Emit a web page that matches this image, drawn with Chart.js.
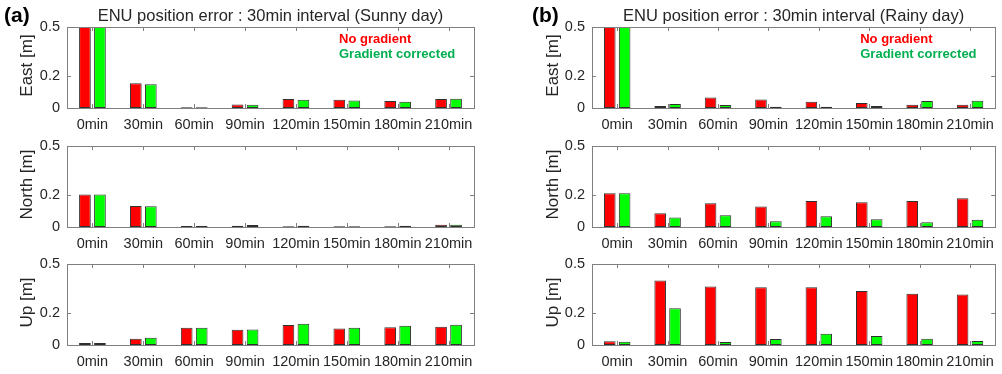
<!DOCTYPE html>
<html>
<head>
<meta charset="utf-8">
<script src="https://cdn.jsdelivr.net/npm/chart.js@4.4.1/dist/chart.umd.min.js"></script>
<style>
  html, body { margin: 0; padding: 0; background: #fff; }
  body { width: 1002px; height: 374px; position: relative; overflow: hidden; }
  canvas { position: absolute; }
</style>
</head>
<body>
<script>
// ---------- data ----------
const categories = ['0min', '30min', '60min', '90min', '120min', '150min', '180min', '210min'];
const yTicks = [0, 0.2, 0.5];
const seriesNames = ['No gradient', 'Gradient corrected'];

const sunnyEastNoGrad  = [0.5, 0.153, 0.004, 0.022, 0.055, 0.051, 0.043, 0.055];
const sunnyEastGrad    = [0.5, 0.147, 0.004, 0.020, 0.051, 0.047, 0.039, 0.057];
const sunnyNorthNoGrad = [0.200, 0.130, 0.006, 0.008, 0.004, 0.004, 0.004, 0.014];
const sunnyNorthGrad   = [0.200, 0.128, 0.006, 0.012, 0.008, 0.004, 0.008, 0.014];
const sunnyUpNoGrad    = [0.012, 0.039, 0.107, 0.094, 0.123, 0.102, 0.109, 0.113];
const sunnyUpGrad      = [0.012, 0.045, 0.107, 0.096, 0.131, 0.107, 0.119, 0.125];

const rainyEastNoGrad  = [0.5, 0.012, 0.065, 0.053, 0.039, 0.031, 0.020, 0.020];
const rainyEastGrad    = [0.5, 0.024, 0.018, 0.008, 0.008, 0.012, 0.043, 0.045];
const rainyNorthNoGrad = [0.209, 0.085, 0.147, 0.126, 0.161, 0.153, 0.161, 0.178];
const rainyNorthGrad   = [0.209, 0.058, 0.072, 0.035, 0.066, 0.048, 0.029, 0.045];
const rainyUpNoGrad    = [0.023, 0.398, 0.361, 0.357, 0.357, 0.334, 0.316, 0.311];
const rainyUpGrad      = [0.020, 0.227, 0.018, 0.037, 0.070, 0.055, 0.039, 0.025];

const panelTitles = ['ENU position error : 30min interval (Sunny day)', 'ENU position error : 30min interval (Rainy day)'];
const panelLetters = ['(a)', '(b)'];
const rowLabels = ['East [m]', 'North [m]', 'Up [m]'];

// ---------- layout ----------
const FONT = "'Liberation Sans', Arial, sans-serif";
const cols = [
  { x0: 0,   left: 67,  right: 474, letterX: 4 },
  { x0: 500, left: 592, right: 999, letterX: 532 }
];
const rows = [
  { top: 27,  bottom: 108 },
  { top: 146, bottom: 227 },
  { top: 264, bottom: 345 }
];
const CANVAS_W = 502;
const PAD_TOP = 27, XAXIS_H = 30;

const panelData = [
  [[sunnyEastNoGrad, sunnyEastGrad], [sunnyNorthNoGrad, sunnyNorthGrad], [sunnyUpNoGrad, sunnyUpGrad]],
  [[rainyEastNoGrad, rainyEastGrad], [rainyNorthNoGrad, rainyNorthGrad], [rainyUpNoGrad, rainyUpGrad]]
];

const decor = {
  id: 'decor',
  afterDatasetsDraw(chart, args, opts) {
    const ctx = chart.ctx;
    const a = chart.chartArea;
    const xs = chart.scales.x, ys = chart.scales.y;
    ctx.save();
    // box
    ctx.strokeStyle = '#7f7f7f';
    ctx.lineWidth = 1;
    ctx.strokeRect(Math.round(a.left) + 0.5, Math.round(a.top) + 0.5, Math.round(a.right - a.left), Math.round(a.bottom - a.top));
    // inward ticks
    const tl = 4;
    ctx.beginPath();
    for (let i = 0; i < categories.length; i++) {
      const px = Math.round(xs.getPixelForValue(i)) + 0.5;
      ctx.moveTo(px, a.top); ctx.lineTo(px, a.top + tl);
      ctx.moveTo(px, a.bottom); ctx.lineTo(px, a.bottom - tl);
    }
    yTicks.forEach(v => {
      const py = Math.round(ys.getPixelForValue(v)) + 0.5;
      ctx.moveTo(a.left, py); ctx.lineTo(a.left + tl, py);
      ctx.moveTo(a.right, py); ctx.lineTo(a.right - tl, py);
    });
    ctx.stroke();

    // y axis title
    ctx.fillStyle = '#262626';
    ctx.font = '17px ' + FONT;
    ctx.textAlign = 'center';
    ctx.textBaseline = 'middle';
    ctx.translate(opts.yTitleX, (a.top + a.bottom) / 2 - 2);
    ctx.rotate(-Math.PI / 2);
    ctx.fillText(opts.yTitle, 0, 0);
    ctx.restore();

    if (opts.title) {
      ctx.save();
      ctx.fillStyle = '#262626';
      ctx.font = '16.5px ' + FONT;
      ctx.textAlign = 'center';
      ctx.textBaseline = 'middle';
      ctx.fillText(opts.title, (a.left + a.right) / 2, 16);
      ctx.font = 'bold 21px ' + FONT;
      ctx.textAlign = 'left';
      ctx.fillStyle = '#000';
      ctx.fillText(opts.letter, opts.letterX, 16);
      // legend text
      ctx.font = 'bold 13px ' + FONT;
      ctx.fillStyle = '#ff0000';
      ctx.fillText(seriesNames[0], a.right - 135, 39);
      ctx.fillStyle = '#00b050';
      ctx.fillText(seriesNames[1], a.right - 135, 54);
      ctx.restore();
    }
  }
};

for (let c = 0; c < 2; c++) {
  for (let r = 0; r < 3; r++) {
    const col = cols[c], row = rows[r];
    const cv = document.createElement('canvas');
    const topPx = row.top - PAD_TOP;
    const h = (row.bottom - row.top) + PAD_TOP + XAXIS_H;
    cv.width = CANVAS_W; cv.height = h;
    cv.style.left = col.x0 + 'px';
    cv.style.top = topPx + 'px';
    cv.style.width = CANVAS_W + 'px';
    cv.style.height = h + 'px';
    document.body.appendChild(cv);
    const [d0, d1] = panelData[c][r];
    new Chart(cv, {
      type: 'bar',
      data: {
        labels: categories,
        datasets: [
          { label: seriesNames[0], data: d0, backgroundColor: '#ff0000', borderColor: '#303030', borderWidth: 1, borderSkipped: false,
            categoryPercentage: 0.59, barPercentage: 0.78 },
          { label: seriesNames[1], data: d1, backgroundColor: '#00ff00', borderColor: '#303030', borderWidth: 1, borderSkipped: false,
            categoryPercentage: 0.59, barPercentage: 0.78 }
        ]
      },
      options: {
        responsive: false,
        animation: false,
        devicePixelRatio: 1,
        layout: { padding: { top: PAD_TOP, right: (col.x0 + CANVAS_W) - col.right, left: 0, bottom: 0 } },
        plugins: {
          legend: { display: false },
          title: { display: false },
          tooltip: { enabled: false },
          decor: {
            yTitle: rowLabels[r],
            yTitleX: col.x0 === 0 ? 27 : 53,
            title: r === 0 ? panelTitles[c] : null,
            letter: panelLetters[c],
            letterX: col.letterX - col.x0
          }
        },
        scales: {
          x: {
            grid: { display: false, drawTicks: false },
            border: { display: false },
            ticks: { autoSkip: false, maxRotation: 0, minRotation: 0, padding: 8, color: '#262626', font: { family: FONT, size: 14.5 } },
            afterFit(s) { s.height = XAXIS_H; }
          },
          y: {
            min: 0, max: 0.5,
            grid: { display: false, drawTicks: false },
            border: { display: false },
            afterBuildTicks(s) { s.ticks = yTicks.map(v => ({ value: v })); },
            ticks: { padding: 7, color: '#262626', font: { family: FONT, size: 14.5 },
                     callback: (v) => String(v) },
            afterFit(s) { s.width = col.left - col.x0; }
          }
        }
      },
      plugins: [decor]
    });
  }
}
</script>
</body>
</html>
